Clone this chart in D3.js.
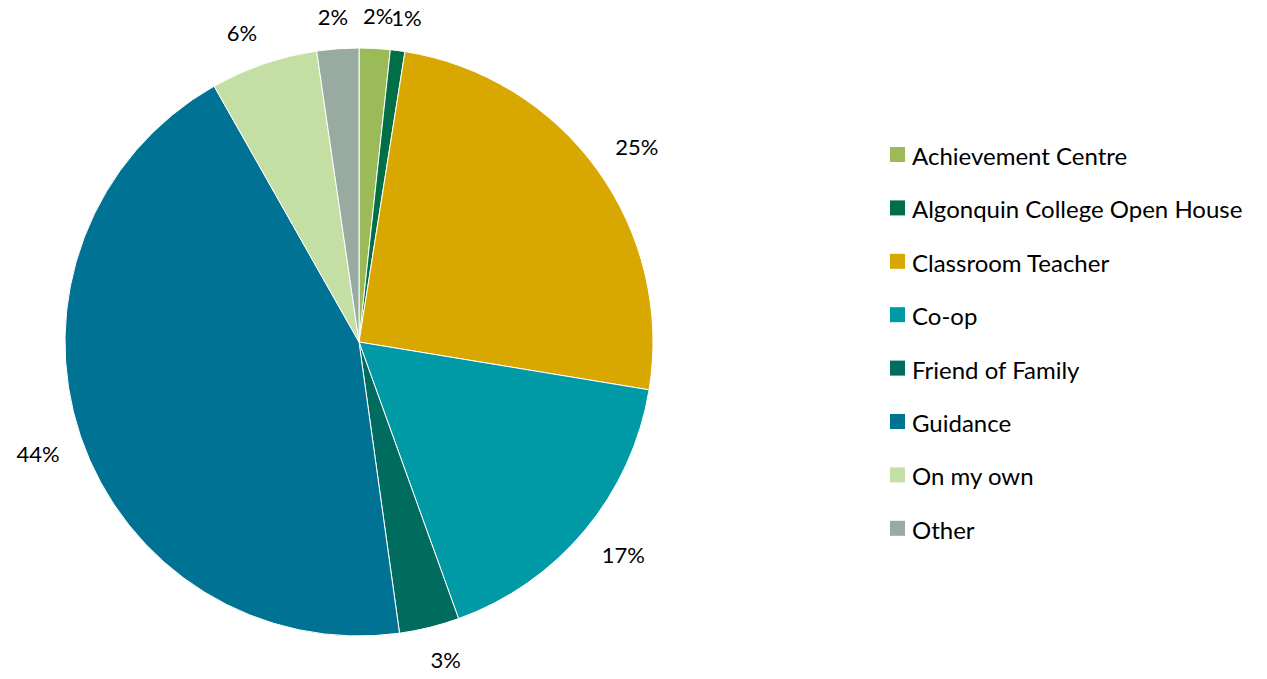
<!DOCTYPE html>
<html>
<head>
<meta charset="utf-8">
<script src="https://cdn.jsdelivr.net/npm/d3@7"></script>
<style>
  body { margin: 0; background: #fff; }
  text { font-family: Lato, "Open Sans", sans-serif; fill: #000; }
</style>
</head>
<body>
<script>
// Categories, values (percent share) and label texts
var categories = ["Achievement Centre", "Algonquin College Open House", "Classroom Teacher",
                  "Co-op", "Friend of Family", "Guidance", "On my own", "Other"];
var values = [1.7, 0.8, 25.1, 16.9, 3.3, 44.0, 5.9, 2.3];
var labels = ["2%", "1%", "25%", "17%", "3%", "44%", "6%", "2%"];
var colors = ["#9bbb59", "#006f45", "#d9a800", "#0099a6", "#006b5f", "#007293", "#c3dfa3", "#97aba0"];

var width = 1267;
var height = 679;

// pie geometry
var cx = 359, cy = 342, radius = 294;
var labelGap = 22;

var data = categories.map(function(c, i) {
	return {name: c, value: values[i], label: labels[i], color: colors[i]};
});

var svg = d3.select("body")
		.append("svg")
		.attr("width", width)
		.attr("height", height);

var pie = d3.pie()
		.sort(null)
		.value(function(d) { return d.value; });

var arc = d3.arc()
		.innerRadius(0)
		.outerRadius(radius);

var arcs = pie(data);

var g = svg.append("g")
		.attr("transform", "translate(" + cx + "," + cy + ")");

// Draw the slices
g.selectAll("path")
	.data(arcs)
	.enter()
	.append("path")
	.attr("d", arc)
	.attr("fill", function(d) { return d.data.color; })
	.attr("stroke", "#fff")
	.attr("stroke-width", 1);

// Percent labels: a point just outside the rim, then the label box hangs off it
// on the side facing away from the pie (like Excel's best fit)
function push(t) { return Math.max(-1, Math.min(1, t * 3)); }

g.selectAll("text.pct")
	.data(arcs)
	.enter()
	.append("text")
	.attr("class", "pct")
	.text(function(d) { return d.data.label; })
	.attr("font-size", "22px")
	.attr("text-anchor", "middle")
	.attr("dominant-baseline", "central")
	.each(function(d) {
		var box = this.getBBox();
		var a = (d.startAngle + d.endAngle) / 2;
		var ux = Math.sin(a), uy = -Math.cos(a);
		var r = radius + labelGap;
		d3.select(this)
			.attr("x", ux * r + push(ux) * box.width / 2)
			.attr("y", uy * r + push(uy) * box.height * 0.4);
	});

// Legend
var legendX = 890, legendY = 147, legendStep = 53.4, box = 15;

var legend = svg.selectAll("g.legend")
		.data(data)
		.enter()
		.append("g")
		.attr("class", "legend")
		.attr("transform", function(d, i) { return "translate(" + legendX + "," + (legendY + i * legendStep) + ")"; });

legend.append("rect")
	.attr("width", box)
	.attr("height", box)
	.attr("fill", function(d) { return d.color; });

legend.append("text")
	.attr("x", 22)
	.attr("y", box / 2 + 1)
	.attr("dominant-baseline", "central")
	.attr("font-size", "24px")
	.text(function(d) { return d.name; });
</script>
</body>
</html>
